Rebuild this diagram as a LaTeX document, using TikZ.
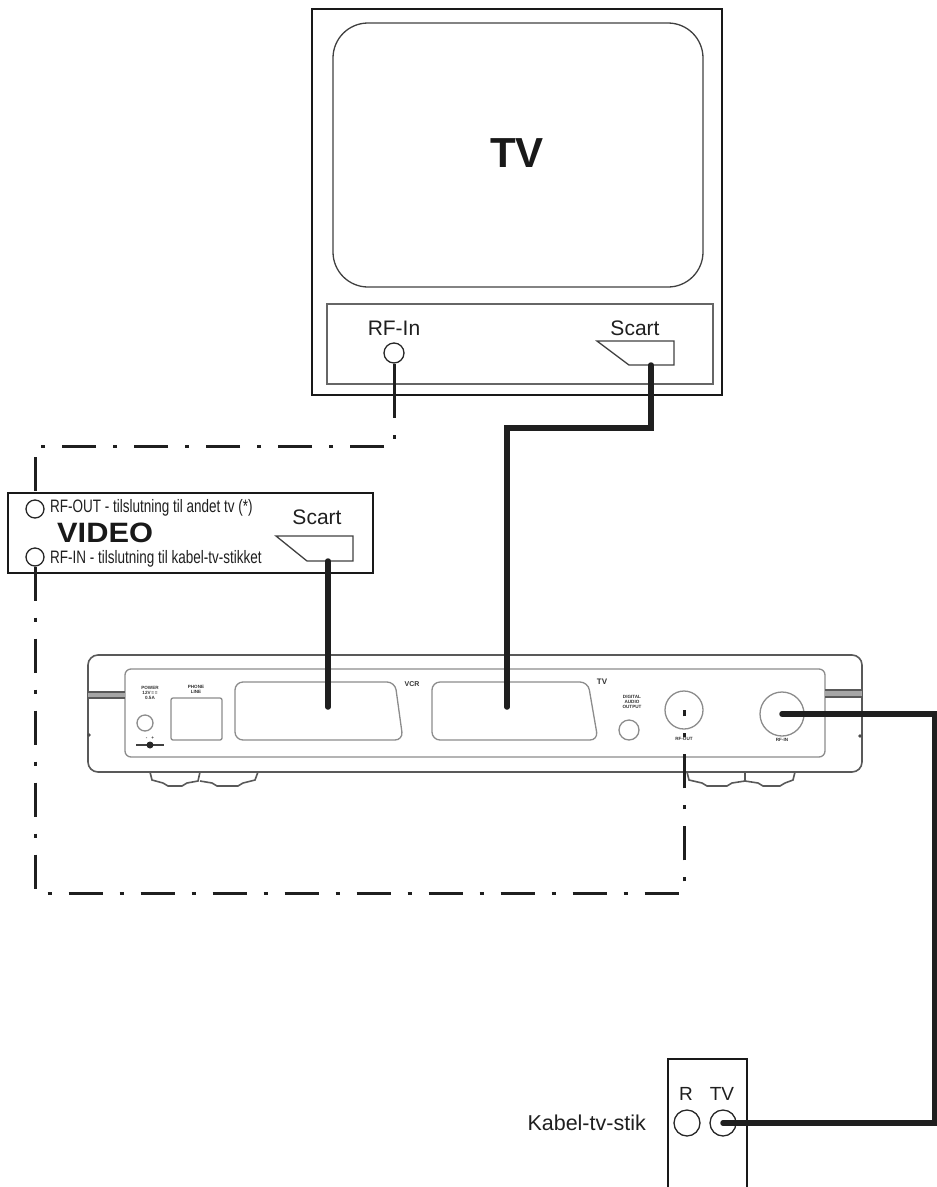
\documentclass[tikz,border=0pt]{standalone}
\usepackage{fontspec}
\setmainfont{Liberation Sans}
\newfontfamily\narrowfont[FakeStretch=0.75]{Liberation Sans}
\newfontfamily\videofont[FakeStretch=1.1]{Liberation Sans}
\begin{document}
\begin{tikzpicture}[x=1pt,y=-1pt,
  outline/.style={draw=black!90,line width=2pt},
  thinline/.style={draw=black!75,line width=1.3pt},
  boxline/.style={draw=black!65,line width=1.6pt},
  boxthin/.style={draw=black!45,line width=1.3pt},
  cable/.style={line width=5.5pt,line cap=round,draw=black!88},
  rfline/.style={line width=3pt,draw=black!88,dash pattern=on 34pt off 17pt on 4pt off 17pt},
  port/.style={circle,draw=black!85,line width=1.3pt,inner sep=0pt},
  boxport/.style={circle,draw=black!45,line width=1.3pt,inner sep=0pt},
  lbl/.style={inner sep=0pt,text=black!88,font=\fontsize{21}{24}\selectfont},
  narrowlbl/.style={inner sep=0pt,anchor=west,text=black!88,font=\narrowfont\fontsize{18}{20}\selectfont},
  tinylbl/.style={inner sep=0pt,align=center,text=black!80,font=\bfseries\fontsize{4.6}{4.8}\selectfont}
]
\useasboundingbox (0,0) rectangle (937,1187);

% ---------------- TV ----------------
\draw[outline] (312,9) rectangle (722,395);
\draw[thinline, rounded corners=35pt] (333,23) rectangle (703,287);
\draw[thinline, draw=black!60] (327,304) rectangle (713,384);
\node[text=black!90,font=\bfseries\fontsize{42}{48}\selectfont] (tvlabel) at (517,153) {TV};
\node[lbl] (tvrflabel) at (394,328) {RF-In};
\node[port,minimum size=20pt] (tvrfin) at (394,353) {};
\node[lbl] (tvscartlabel) at (635,328) {Scart};
\draw[thinline] (597,341) -- (674,341) -- (674,365) -- (629,365) -- cycle;
\coordinate (tvscart) at (651,365);
\coordinate (tvpanel) at (394,384);

% ---------------- VIDEO ----------------
\draw[outline] (8,493) rectangle (373,573);
\node[port,minimum size=18pt] (vidrfout) at (35,509) {};
\node[port,minimum size=18pt] (vidrfin) at (35,557) {};
\node[narrowlbl] (vidouttext) at (50,508) {RF-OUT - tilslutning til andet tv (*)};
\node[inner sep=0pt,anchor=west,text=black!90,font=\videofont\bfseries\fontsize{28}{31}\selectfont] (vidlabel) at (57,533) {VIDEO};
\node[narrowlbl] (vidintext) at (50,559) {RF-IN - tilslutning til kabel-tv-stikket};
\node[lbl] (vidscartlabel) at (317,517) {Scart};
\draw[thinline] (276,536) -- (353,536) -- (353,561) -- (307,561) -- cycle;
\coordinate (vidscart) at (328,561);

% ---------------- Receiver box ----------------
% feet
\draw[boxline] (150,772) -- (152,780) -- (163,783) -- (168,786) -- (182,786) -- (187,783) -- (198,781) -- (200,772);
\draw[boxline] (200,781) -- (212,783) -- (217,786) -- (238,786) -- (243,783) -- (255,780) -- (258,772);
\draw[boxline] (687,772) -- (689,780) -- (702,783) -- (707,786) -- (727,786) -- (732,783) -- (745,781) -- (745,772);
\draw[boxline] (745,781) -- (758,783) -- (763,786) -- (780,786) -- (785,783) -- (793,780) -- (795,772);
% body
\draw[boxline, fill=white, rounded corners=10pt] (88,655) rectangle (862,772);
\draw[boxthin, rounded corners=6pt] (125,669) rectangle (825,757);
% side rails
\fill[black!35] (88,692) rectangle (125,698);
\draw[boxline] (88,692) -- (125,692) (88,698) -- (125,698);
\fill[black!35] (825,690) rectangle (862,697);
\draw[boxline] (825,690) -- (862,690) (825,697) -- (862,697);
\fill[black!70] (89,735) circle (1.8pt);
\fill[black!70] (860,736) circle (1.8pt);
% power
\node[tinylbl] (powerlbl) at (150,693) {POWER\\12V\,=\,=\\0.5A};
\node[boxport,minimum size=16pt] (power) at (145,723) {};
\draw[black!75,line width=1.2pt] (136,745) -- (164,745);
\fill[black!85] (150,745) circle (3.5pt);
\node[tinylbl] (polarity) at (150,738) {-\;\;\;+};
% phone line
\node[tinylbl] (phonelbl) at (196,689) {PHONE\\LINE};
\draw[boxthin, rounded corners=2pt] (171,698) rectangle (222,740);
% scart sockets
\draw[boxthin, rounded corners=8pt] (235,682) -- (395,682) -- (403,740) -- (235,740) -- cycle;
\node[tinylbl,font=\bfseries\fontsize{7}{8}\selectfont] (vcrlbl) at (412,684) {VCR};
\draw[boxthin, rounded corners=8pt] (432,682) -- (588,682) -- (598,740) -- (432,740) -- cycle;
\node[tinylbl,font=\bfseries\fontsize{8}{9}\selectfont] (tvboxlbl) at (602,682) {TV};
\node[tinylbl] (digitallbl) at (632,702) {DIGITAL\\AUDIO\\OUTPUT};
\node[boxport,minimum size=20pt] (digital) at (629,730) {};
\node[boxport,minimum size=38pt] (boxrfout) at (684,710) {};
\node[tinylbl] (rfoutlbl) at (684,739) {RF-OUT};
\node[boxport,minimum size=44pt] (boxrfin) at (782,714) {};
\node[tinylbl] (rfinlbl) at (782,740) {RF-IN};
\coordinate (boxvcr) at (328,707);
\coordinate (boxtv) at (507,707);

% ---------------- Wall socket ----------------
\draw[outline] (668,1192) -- (668,1059) -- (747,1059) -- (747,1192);
\node[lbl,font=\fontsize{19}{22}\selectfont] (rlabel) at (686,1094) {R};
\node[lbl,font=\fontsize{19}{22}\selectfont] (tvwlabel) at (722,1094) {TV};
\node[port,minimum size=26pt] (wallr) at (687,1123) {};
\node[port,minimum size=26pt] (walltv) at (723,1123) {};
\node[lbl,anchor=east,font=\fontsize{21.5}{24}\selectfont] (kabel) at (646,1123) {Kabel-tv-stik};

% ---------------- Connectors ----------------
\coordinate (rfcornerA) at (35,446);
\coordinate (rfcornerB) at (35,893);
\coordinate (wallcorner) at (935,1123);
\draw[cable] (tvscart) -- ++(0,63) -| (boxtv);
\draw[cable] (vidscart) -- (boxvcr);
\draw[line width=3pt,draw=black!88] (tvrfin.south) -- (tvpanel);
\draw[rfline] (tvpanel) |- (rfcornerA) -- (vidrfout.north);
\draw[rfline] (vidrfin.south) -- (rfcornerB) -| (boxrfout.center);
\draw[cable] (boxrfin.center) -| (wallcorner) -- (walltv.center);
\end{tikzpicture}
\end{document}
